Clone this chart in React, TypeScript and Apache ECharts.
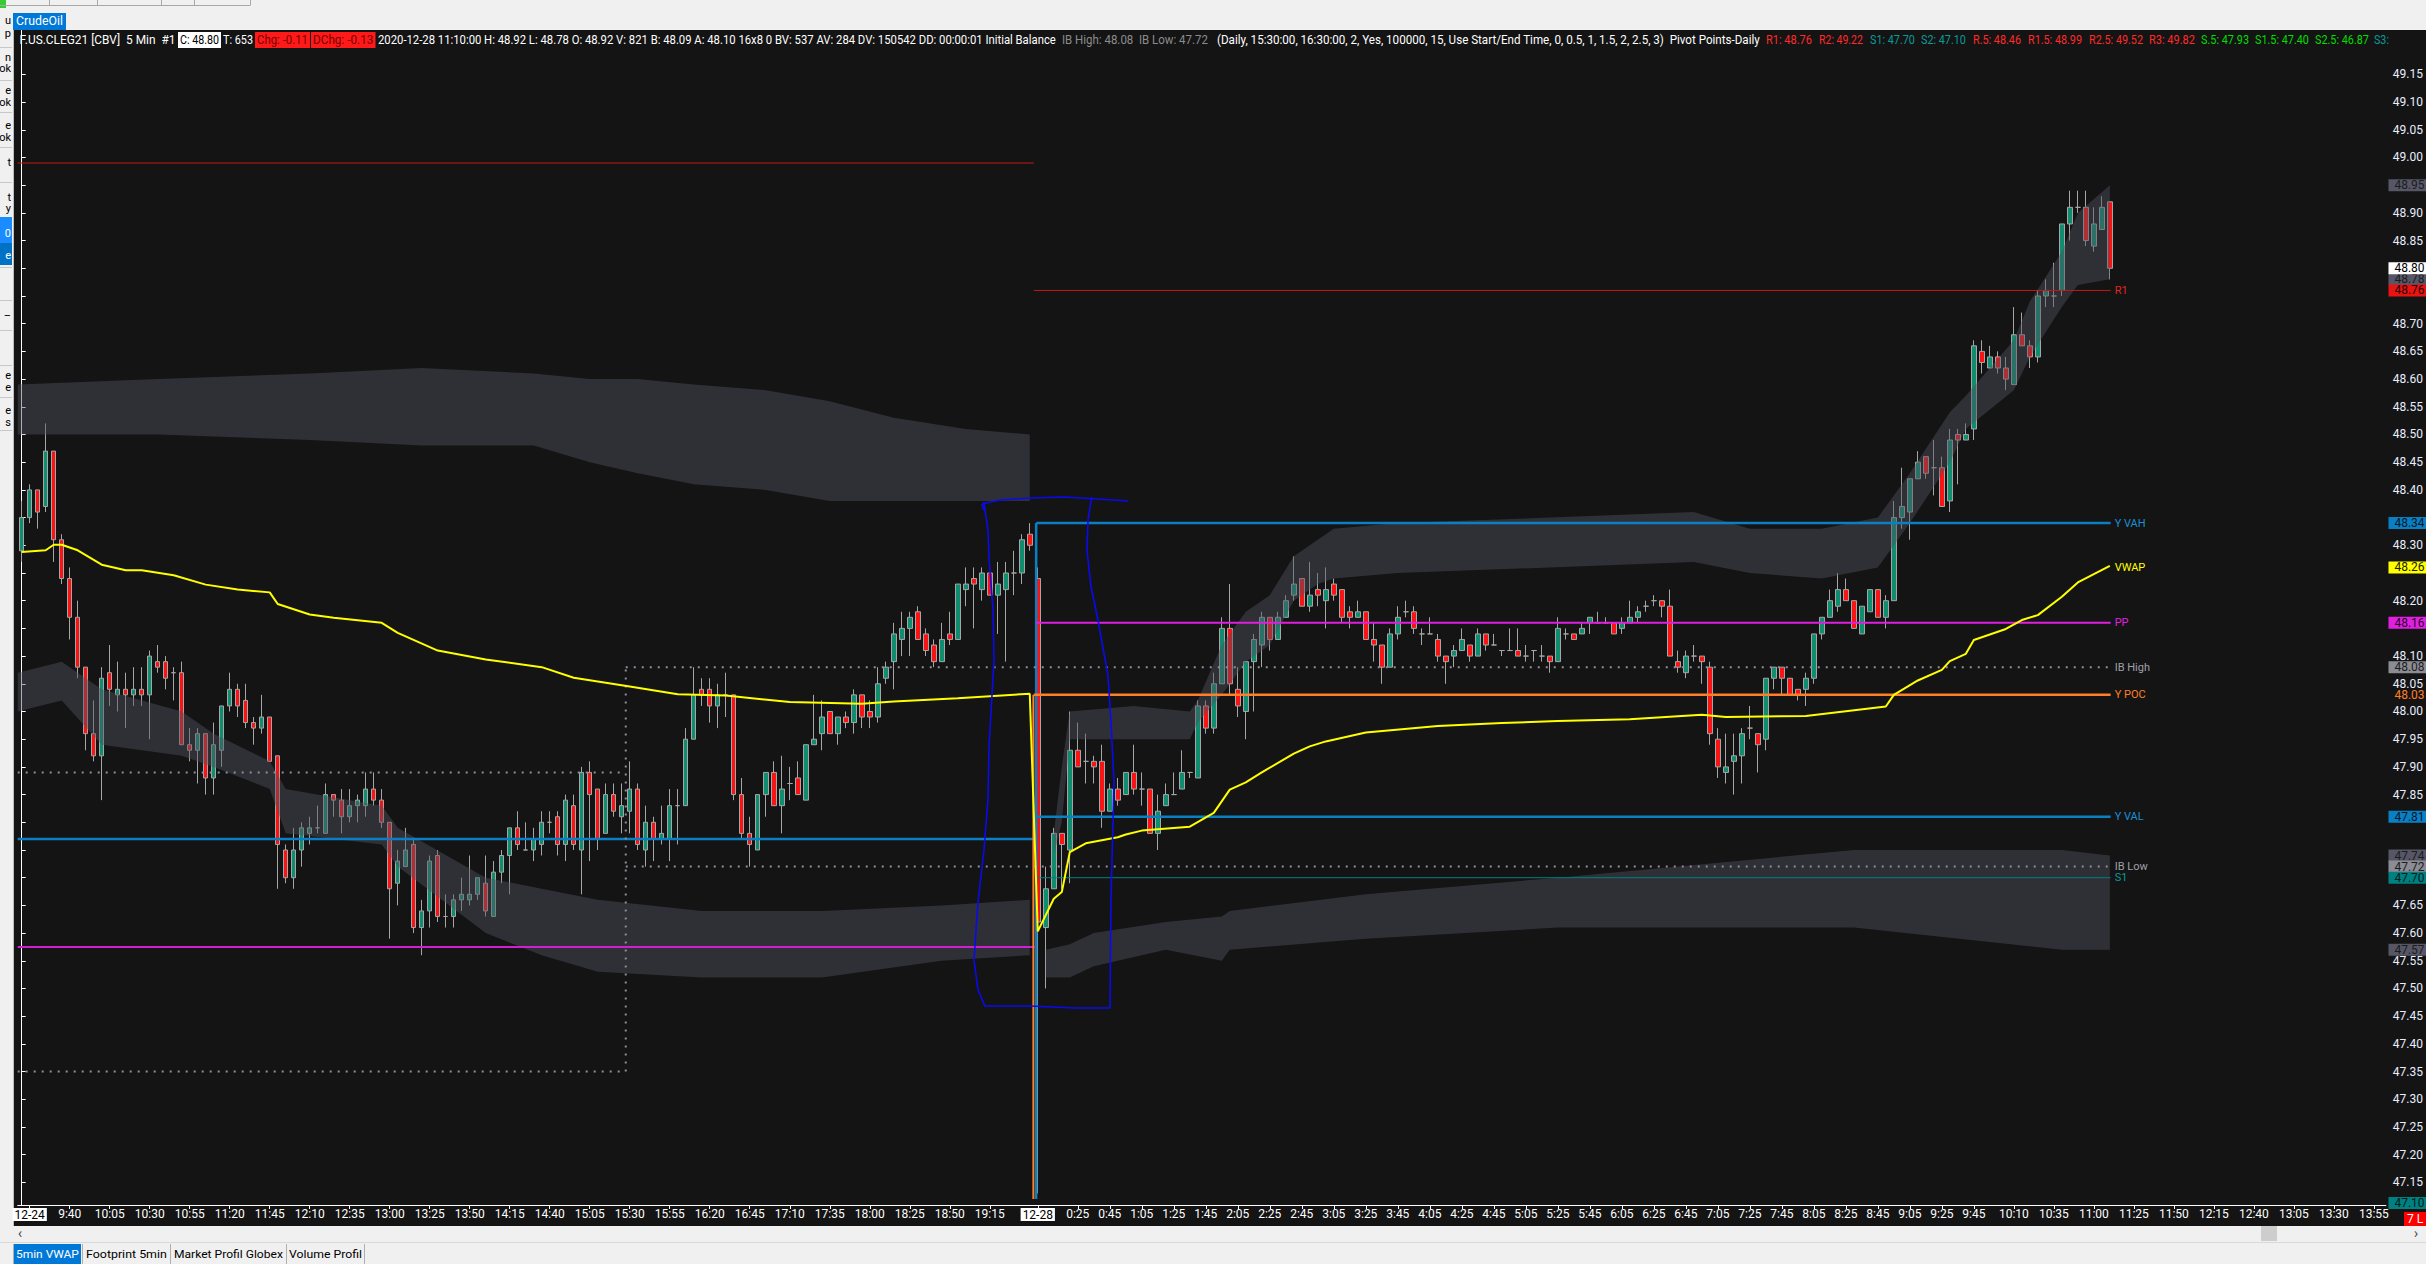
import React, { useEffect, useRef } from 'react';
import * as echarts from 'echarts';

const PAGE_W = 2426;
const PAGE_H = 1264;
const FONT = 'Roboto, "Noto Sans", "DejaVu Sans", sans-serif';

// ---------------- categories (5-minute bars) ----------------
function hm(m: number) {
  return `${Math.floor(m / 60)}:${String(m % 60).padStart(2, '0')}`;
}
const CATEGORIES: string[] = [];
for (let m = 9 * 60 + 10; m <= 19 * 60 + 40; m += 5) CATEGORIES.push(hm(m));
const SESSION2_START = CATEGORIES.length;
for (let m = 0; m <= 14 * 60; m += 5) CATEGORIES.push(hm(m));

const DAY1_TICKS = ['9:40', '10:05', '10:30', '10:55', '11:20', '11:45', '12:10', '12:35', '13:00', '13:25', '13:50', '14:15', '14:40', '15:05', '15:30', '15:55', '16:20', '16:45', '17:10', '17:35', '18:00', '18:25', '18:50', '19:15'];
const DAY2_TICKS = ['0:25', '0:45', '1:05', '1:25', '1:45', '2:05', '2:25', '2:45', '3:05', '3:25', '3:45', '4:05', '4:25', '4:45', '5:05', '5:25', '5:45', '6:05', '6:25', '6:45', '7:05', '7:25', '7:45', '8:05', '8:25', '8:45', '9:05', '9:25', '9:45', '10:10', '10:35', '11:00', '11:25', '11:50', '12:15', '12:40', '13:05', '13:30', '13:55'];
const DATE_TICK_INDEXES = [1, 127];
const DATE_TICK_TEXTS = ['12-24', '12-28'];

const Y_TICKS = [47.15, 47.2, 47.25, 47.3, 47.35, 47.4, 47.45, 47.5, 47.55, 47.6, 47.65, 47.7, 47.75, 47.8, 47.85, 47.9, 47.95, 48.0, 48.05, 48.1, 48.15, 48.2, 48.25, 48.3, 48.35, 48.4, 48.45, 48.5, 48.55, 48.6, 48.65, 48.7, 48.75, 48.8, 48.85, 48.9, 48.95, 49.0, 49.05, 49.1, 49.15];
// labels that stay visible (the others sit under the coloured price tags)
const Y_LABELS = [47.15, 47.2, 47.25, 47.3, 47.35, 47.4, 47.45, 47.5, 47.55, 47.6, 47.65, 47.85, 47.9, 47.95, 48.0, 48.05, 48.1, 48.2, 48.3, 48.4, 48.45, 48.5, 48.55, 48.6, 48.65, 48.7, 48.85, 48.9, 49.0, 49.05, 49.1, 49.15];

// ---------------- candles [open, close, low, high] ----------------
const SESSION1_CANDLES: number[][] = [
  [48.29, 48.35, 48.27, 48.38], [48.35, 48.40, 48.34, 48.41], [48.40, 48.36, 48.33, 48.40], [48.37, 48.47, 48.36, 48.52],
  [48.47, 48.31, 48.27, 48.47], [48.31, 48.24, 48.23, 48.32], [48.24, 48.17, 48.13, 48.26], [48.17, 48.08, 48.06, 48.20],
  [48.08, 47.96, 47.93, 48.08], [47.96, 47.92, 47.91, 48.02], [47.92, 48.06, 47.84, 48.08], [48.07, 48.04, 48.01, 48.12],
  [48.03, 48.04, 48.00, 48.09], [48.04, 48.03, 47.97, 48.07], [48.03, 48.04, 48.01, 48.08], [48.04, 48.03, 48.01, 48.08],
  [48.03, 48.10, 47.95, 48.11], [48.09, 48.08, 48.07, 48.12], [48.09, 48.06, 48.04, 48.10], [48.07, 48.07, 48.02, 48.08],
  [48.07, 47.94, 47.94, 48.09], [47.94, 47.93, 47.91, 47.97], [47.93, 47.96, 47.87, 47.97], [47.96, 47.88, 47.85, 47.96],
  [47.88, 47.94, 47.85, 47.98], [47.93, 48.01, 47.90, 48.01], [48.01, 48.04, 48.00, 48.07], [48.04, 48.01, 47.99, 48.05],
  [48.02, 47.98, 47.97, 48.05], [47.98, 47.97, 47.94, 47.99], [47.97, 47.99, 47.96, 48.03], [47.99, 47.91, 47.91, 47.99],
  [47.92, 47.76, 47.68, 47.92], [47.75, 47.70, 47.69, 47.76], [47.70, 47.75, 47.68, 47.79], [47.75, 47.79, 47.72, 47.80],
  [47.78, 47.79, 47.76, 47.81], [47.79, 47.79, 47.78, 47.83], [47.78, 47.85, 47.78, 47.87], [47.85, 47.84, 47.81, 47.85],
  [47.84, 47.81, 47.78, 47.86], [47.81, 47.83, 47.80, 47.86], [47.83, 47.84, 47.80, 47.85], [47.83, 47.86, 47.81, 47.89],
  [47.86, 47.84, 47.83, 47.89], [47.84, 47.80, 47.79, 47.86], [47.80, 47.68, 47.59, 47.80], [47.69, 47.73, 47.65, 47.75],
  [47.72, 47.75, 47.72, 47.79], [47.76, 47.61, 47.60, 47.77], [47.61, 47.64, 47.56, 47.66], [47.64, 47.73, 47.61, 47.74],
  [47.74, 47.63, 47.62, 47.75], [47.63, 47.63, 47.61, 47.67], [47.63, 47.66, 47.61, 47.67], [47.66, 47.67, 47.64, 47.70],
  [47.66, 47.67, 47.65, 47.74], [47.67, 47.70, 47.66, 47.70], [47.69, 47.64, 47.63, 47.74], [47.63, 47.71, 47.63, 47.73],
  [47.71, 47.74, 47.69, 47.75], [47.74, 47.79, 47.67, 47.79], [47.79, 47.76, 47.75, 47.82], [47.75, 47.75, 47.75, 47.80],
  [47.75, 47.77, 47.73, 47.79], [47.76, 47.80, 47.74, 47.82], [47.80, 47.80, 47.78, 47.82], [47.81, 47.76, 47.74, 47.82],
  [47.76, 47.84, 47.73, 47.85], [47.83, 47.76, 47.75, 47.85], [47.75, 47.89, 47.67, 47.90], [47.89, 47.85, 47.73, 47.91],
  [47.86, 47.77, 47.75, 47.86], [47.78, 47.85, 47.78, 47.87], [47.85, 47.82, 47.81, 47.87], [47.81, 47.83, 47.78, 47.87],
  [47.82, 47.86, 47.78, 47.91], [47.86, 47.76, 47.75, 47.87], [47.75, 47.80, 47.72, 47.83], [47.80, 47.77, 47.73, 47.81],
  [47.77, 47.78, 47.76, 47.83], [47.77, 47.83, 47.73, 47.86], [47.83, 47.83, 47.76, 47.86], [47.83, 47.95, 47.83, 47.97],
  [47.95, 48.03, 47.95, 48.08], [48.04, 48.03, 48.01, 48.06], [48.04, 48.01, 47.98, 48.06], [48.01, 48.03, 47.97, 48.05],
  [48.03, 48.03, 47.99, 48.07], [48.03, 47.85, 47.84, 48.03], [47.85, 47.78, 47.77, 47.88], [47.78, 47.76, 47.72, 47.81],
  [47.75, 47.85, 47.75, 47.85], [47.85, 47.89, 47.81, 47.89], [47.89, 47.83, 47.83, 47.91], [47.83, 47.86, 47.78, 47.92],
  [47.87, 47.87, 47.84, 47.90], [47.88, 47.85, 47.85, 47.91], [47.84, 47.94, 47.84, 47.94], [47.94, 47.95, 47.94, 48.03],
  [47.96, 47.99, 47.93, 48.02], [48.00, 47.96, 47.96, 48.00], [47.96, 47.99, 47.94, 47.99], [47.99, 47.98, 47.97, 48.00],
  [47.98, 48.03, 47.96, 48.04], [48.03, 47.99, 47.97, 48.03], [48.00, 47.99, 47.97, 48.02], [47.99, 48.05, 47.98, 48.08],
  [48.06, 48.08, 48.05, 48.09], [48.09, 48.14, 48.04, 48.16], [48.13, 48.15, 48.10, 48.18], [48.15, 48.17, 48.10, 48.18],
  [48.18, 48.13, 48.13, 48.19], [48.14, 48.11, 48.10, 48.15], [48.12, 48.09, 48.08, 48.13], [48.09, 48.13, 48.09, 48.16],
  [48.14, 48.13, 48.12, 48.18], [48.13, 48.23, 48.13, 48.23], [48.22, 48.23, 48.19, 48.26], [48.24, 48.23, 48.15, 48.26],
  [48.22, 48.25, 48.20, 48.26], [48.25, 48.21, 48.21, 48.25], [48.21, 48.23, 48.14, 48.27], [48.22, 48.25, 48.09, 48.27],
  [48.25, 48.25, 48.21, 48.29], [48.25, 48.31, 48.23, 48.32], [48.32, 48.30, 48.29, 48.34],
];

const SESSION2_CANDLES: number[][] = [
  [48.24, 47.62, 47.13, 48.26],
  [47.61, 47.68, 47.50, 47.72], [47.68, 47.78, 47.68, 47.79], [47.78, 47.76, 47.68, 47.78], [47.75, 47.93, 47.69, 48.00],
  [47.93, 47.90, 47.90, 47.98], [47.91, 47.91, 47.87, 47.96], [47.91, 47.90, 47.87, 47.92], [47.91, 47.82, 47.79, 47.94],
  [47.82, 47.86, 47.82, 47.87], [47.86, 47.84, 47.83, 47.88], [47.85, 47.89, 47.85, 47.89], [47.89, 47.86, 47.85, 47.94],
  [47.86, 47.86, 47.83, 47.89], [47.86, 47.78, 47.78, 47.86], [47.78, 47.82, 47.75, 47.85], [47.83, 47.85, 47.83, 47.87],
  [47.85, 47.85, 47.85, 47.89], [47.86, 47.89, 47.86, 47.93], [47.89, 47.89, 47.88, 47.89], [47.88, 48.01, 47.88, 48.02],
  [48.01, 47.97, 47.96, 48.02], [47.97, 48.05, 47.96, 48.07], [48.05, 48.15, 48.05, 48.17], [48.15, 48.05, 48.03, 48.23],
  [48.04, 48.01, 47.99, 48.08], [48.00, 48.09, 47.95, 48.09], [48.09, 48.13, 48.00, 48.14], [48.12, 48.17, 48.08, 48.18],
  [48.17, 48.13, 48.11, 48.17], [48.13, 48.17, 48.13, 48.18], [48.17, 48.20, 48.17, 48.21], [48.21, 48.23, 48.20, 48.28],
  [48.24, 48.19, 48.19, 48.24], [48.19, 48.21, 48.18, 48.27], [48.22, 48.21, 48.19, 48.25], [48.20, 48.22, 48.15, 48.26],
  [48.23, 48.21, 48.20, 48.24], [48.22, 48.17, 48.16, 48.22], [48.18, 48.17, 48.15, 48.19], [48.17, 48.18, 48.17, 48.20],
  [48.18, 48.13, 48.13, 48.18], [48.13, 48.12, 48.09, 48.16], [48.12, 48.08, 48.05, 48.12], [48.08, 48.14, 48.08, 48.15],
  [48.14, 48.17, 48.13, 48.19], [48.18, 48.18, 48.17, 48.20], [48.18, 48.15, 48.14, 48.19], [48.14, 48.14, 48.12, 48.15],
  [48.14, 48.14, 48.14, 48.17], [48.13, 48.10, 48.09, 48.14], [48.10, 48.09, 48.05, 48.10], [48.10, 48.11, 48.08, 48.12],
  [48.11, 48.13, 48.11, 48.15], [48.12, 48.10, 48.09, 48.12], [48.10, 48.14, 48.10, 48.15], [48.14, 48.12, 48.11, 48.14],
  [48.12, 48.12, 48.12, 48.14], [48.11, 48.11, 48.10, 48.11], [48.11, 48.11, 48.11, 48.15], [48.11, 48.10, 48.10, 48.15],
  [48.10, 48.10, 48.09, 48.12], [48.11, 48.11, 48.09, 48.11], [48.10, 48.10, 48.09, 48.12], [48.10, 48.09, 48.07, 48.10],
  [48.09, 48.15, 48.09, 48.17],
  [48.14, 48.14, 48.13, 48.15], [48.14, 48.13, 48.13, 48.14], [48.14, 48.15, 48.14, 48.16], [48.16, 48.17, 48.14, 48.17],
  [48.16, 48.16, 48.16, 48.18], [48.16, 48.16, 48.16, 48.17], [48.16, 48.14, 48.14, 48.16], [48.15, 48.16, 48.14, 48.17],
  [48.16, 48.17, 48.16, 48.20], [48.17, 48.18, 48.16, 48.19], [48.19, 48.19, 48.18, 48.20], [48.20, 48.20, 48.19, 48.21],
  [48.20, 48.19, 48.17, 48.20], [48.19, 48.10, 48.10, 48.22], [48.09, 48.08, 48.07, 48.11], [48.07, 48.10, 48.06, 48.11],
  [48.10, 48.10, 48.09, 48.12], [48.10, 48.09, 48.05, 48.10], [48.08, 47.96, 47.94, 48.09], [47.95, 47.90, 47.88, 47.97],
  [47.89, 47.90, 47.87, 47.96], [47.91, 47.92, 47.85, 47.96], [47.92, 47.96, 47.87, 47.97], [47.97, 47.97, 47.95, 48.01],
  [47.96, 47.94, 47.89, 47.96], [47.95, 48.06, 47.93, 48.06], [48.06, 48.08, 48.04, 48.08], [48.08, 48.06, 48.03, 48.08],
  [48.06, 48.03, 48.03, 48.06], [48.04, 48.03, 48.02, 48.04], [48.04, 48.06, 48.01, 48.07], [48.06, 48.14, 48.05, 48.14],
  [48.14, 48.17, 48.13, 48.17], [48.17, 48.20, 48.17, 48.22], [48.19, 48.22, 48.18, 48.25], [48.22, 48.20, 48.20, 48.24],
  [48.20, 48.15, 48.15, 48.20], [48.14, 48.19, 48.14, 48.19], [48.18, 48.22, 48.18, 48.22], [48.22, 48.17, 48.17, 48.22],
  [48.17, 48.20, 48.15, 48.21], [48.20, 48.35, 48.20, 48.38], [48.35, 48.37, 48.33, 48.44], [48.36, 48.42, 48.31, 48.42],
  [48.42, 48.45, 48.42, 48.47], [48.46, 48.43, 48.42, 48.46], [48.44, 48.44, 48.39, 48.49], [48.44, 48.37, 48.37, 48.46],
  [48.38, 48.49, 48.36, 48.51], [48.50, 48.49, 48.41, 48.51], [48.49, 48.50, 48.49, 48.52], [48.51, 48.66, 48.49, 48.67],
  [48.65, 48.63, 48.61, 48.67], [48.62, 48.64, 48.62, 48.66], [48.64, 48.62, 48.61, 48.65], [48.62, 48.60, 48.58, 48.64],
  [48.59, 48.68, 48.59, 48.73], [48.68, 48.66, 48.66, 48.72], [48.66, 48.64, 48.62, 48.67], [48.64, 48.75, 48.63, 48.76],
  [48.75, 48.76, 48.73, 48.78], [48.75, 48.75, 48.73, 48.81], [48.76, 48.88, 48.75, 48.88], [48.88, 48.91, 48.85, 48.94],
  [48.91, 48.91, 48.90, 48.94], [48.91, 48.85, 48.84, 48.94], [48.84, 48.88, 48.83, 48.91], [48.87, 48.91, 48.87, 48.93],
  [48.92, 48.80, 48.78, 48.92],
];

// ---------------- VWAP (bar index, value) ----------------
const VWAP_BARS = [0, 3, 4, 5, 7, 10, 13, 15, 19, 23, 27, 31, 32, 36, 39, 45, 47, 52, 58, 65, 69, 76, 82, 88, 96, 105, 109, 117, 126,
  127, 129, 130, 131, 133, 137, 138, 140, 146, 149, 151, 153, 155, 159, 161, 163, 168, 177, 185, 192, 201, 210, 213, 223, 233, 234, 237, 240, 241, 243, 244, 248, 250, 252, 255, 257, 261];
const VWAP_VALUES = [48.288, 48.291, 48.301, 48.301, 48.291, 48.265, 48.255, 48.255, 48.246, 48.229, 48.22, 48.215, 48.194, 48.175, 48.169, 48.16, 48.142, 48.11, 48.094, 48.08, 48.061, 48.045, 48.031, 48.029, 48.017, 48.014, 48.018, 48.024, 48.032,
  47.603, 47.662, 47.674, 47.746, 47.762, 47.773, 47.778, 47.785, 47.792, 47.817, 47.859, 47.872, 47.89, 47.924, 47.937, 47.946, 47.962, 47.974, 47.979, 47.983, 47.986, 47.994, 47.99, 47.992, 48.009, 48.03, 48.056, 48.075, 48.091, 48.104, 48.129, 48.149, 48.165, 48.174, 48.207, 48.233, 48.263];

// ---------------- VWAP deviation bands ----------------
const S1_UPPER_BARS = [-0.5, 17, 36, 50, 64, 71, 77, 84, 93, 101, 109, 118, 126];
const S1_UPPER_LOW = [48.50, 48.50, 48.49, 48.48, 48.48, 48.45, 48.43, 48.41, 48.40, 48.38, 48.38, 48.38, 48.38];
const S1_UPPER_HIGH = [48.59, 48.60, 48.61, 48.62, 48.61, 48.60, 48.60, 48.59, 48.58, 48.56, 48.53, 48.51, 48.50];
const S1_LOWER_BARS = [-0.5, 5, 10, 20, 24, 31, 33, 45, 47, 58, 65, 72, 85, 100, 115, 126];
const S1_LOWER_LOW = [48.00, 48.02, 47.94, 47.92, 47.90, 47.86, 47.78, 47.76, 47.72, 47.60, 47.56, 47.53, 47.52, 47.52, 47.55, 47.56];
const S1_LOWER_HIGH = [48.07, 48.09, 48.04, 48.00, 47.96, 47.91, 47.86, 47.83, 47.79, 47.70, 47.68, 47.66, 47.64, 47.64, 47.65, 47.66];
const S2_UPPER_BARS = [129, 130, 131, 139, 146, 147, 150, 153, 156, 159, 162, 164, 172, 191, 209, 216, 225, 232, 234, 236, 241, 243, 249, 251, 255, 257, 261];
const S2_UPPER_LOW = [47.74, 47.80, 47.95, 47.95, 47.95, 47.98, 48.03, 48.09, 48.12, 48.20, 48.23, 48.24, 48.25, 48.26, 48.27, 48.25, 48.24, 48.26, 48.30, 48.34, 48.45, 48.51, 48.58, 48.64, 48.73, 48.77, 48.78];
const S2_UPPER_HIGH = [47.78, 47.90, 48.00, 48.01, 48.00, 48.02, 48.12, 48.18, 48.21, 48.28, 48.31, 48.33, 48.34, 48.35, 48.36, 48.33, 48.33, 48.35, 48.39, 48.43, 48.54, 48.57, 48.67, 48.74, 48.83, 48.90, 48.95];
const S2_LOWER_BARS = [128, 131, 134, 143, 150, 151, 168, 192, 229, 255, 261];
const S2_LOWER_LOW = [47.52, 47.52, 47.54, 47.57, 47.55, 47.57, 47.59, 47.61, 47.61, 47.57, 47.57];
const S2_LOWER_HIGH = [47.57, 47.58, 47.60, 47.62, 47.63, 47.64, 47.67, 47.70, 47.75, 47.75, 47.74];

// ---------------- horizontal levels ----------------
const LEVEL_NAMES = ['R1', 'Y VAH', 'PP', 'IB High', 'Y POC', 'Y VAL', 'IB Low', 'S1'];
const LEVEL_VALUES = [48.76, 48.34, 48.16, 48.08, 48.03, 47.81, 47.72, 47.70];
const LEVEL_START_BARS = [126.5, 126.8, 126.8, 75.5, 126.5, 126.8, 75.5, 126.8];
const LEVEL_END_BAR = 261.1;
const PREV_LEVEL_NAMES = ['R1 (12-24)', 'VA (12-24)', 'PP (12-24)', 'IB High (12-24)', 'IB Low (12-24)'];
const PREV_LEVEL_VALUES = [48.99, 47.77, 47.575, 47.89, 47.35];
const PREV_LEVEL_END_BARS = [126.5, 126.8, 126.6, 75.5, 75.5];
const CONNECTOR_NAMES = ['IB step', 'VA step', 'POC step'];
const CONNECTOR_BARS = [75.5, 126.8, 126.45];
const CONNECTOR_FROM = [47.35, 48.34, 48.03];
const CONNECTOR_TO = [48.08, 47.12, 47.12];

const LINE_LABEL_TEXTS = ['R1', 'Y VAH', 'VWAP', 'PP', 'IB High', 'Y POC', 'Y VAL', 'IB Low', 'S1'];
const LINE_LABEL_VALUES = [48.76, 48.34, 48.26, 48.16, 48.08, 48.03, 47.81, 47.72, 47.70];

const TAG_VALUES = [48.95, 48.78, 48.80, 48.76, 48.34, 48.26, 48.16, 48.08, 48.03, 47.81, 47.74, 47.72, 47.70, 47.57, 47.10];

// ---------------- styles / layout ----------------
const BAR_W = 8.006;
const GRID_LEFT = 17.7;
const GRID_W = CATEGORIES.length * BAR_W;
const GRID_RIGHT = GRID_LEFT + GRID_W;
const GRID_TOP = 30;
const GRID_H = 1175;
const Y_MIN = 47.1092;
const Y_MAX = 49.2301;

const BLUE = '#0a7fc4';
const LEVEL_STYLE: Record<string, { color: string; width: number; dash?: any }> = {
  'R1': { color: '#c41818', width: 1 },
  'Y VAH': { color: BLUE, width: 2.5 },
  'PP': { color: '#e01ee0', width: 2 },
  'IB High': { color: '#8e8e9c', width: 2, dash: [2, 6] },
  'Y POC': { color: '#ff7f27', width: 2.5 },
  'Y VAL': { color: BLUE, width: 2.5 },
  'IB Low': { color: '#8e8e9c', width: 2, dash: [2, 6] },
  'S1': { color: '#008080', width: 1 },
};
const PREV_LEVEL_STYLE = [
  { color: '#c41818', width: 1 },
  { color: BLUE, width: 2.5 },
  { color: '#d21ed2', width: 2 },
  { color: '#8e8e9c', width: 2, dash: [2, 6] },
  { color: '#8e8e9c', width: 2, dash: [2, 6] },
];
const CONNECTOR_STYLE = [
  { color: '#8e8e9c', width: 2, dash: [2, 6] },
  { color: BLUE, width: 2.5 },
  { color: '#ff7f27', width: 2 },
];
const LINE_LABEL_COLORS = ['#e02424', '#1a90d4', '#ffff00', '#e020e0', '#a0a0aa', '#ff7f27', '#1a90d4', '#a0a0aa', '#0a9a9a'];
const TAG_STYLES: [string | null, string][] = [
  ['#565666', '#1c1c1c'], ['#565666', '#1c1c1c'], ['#ffffff', '#000000'], ['#e81414', '#2a0000'],
  [BLUE, '#06192a'], ['#ffff00', '#202000'], ['#e020e0', '#2a002a'], ['#8c8c94', '#1c1c1c'],
  [null, '#ff7f27'], [BLUE, '#06192a'], ['#565666', '#1c1c1c'], ['#8c8c94', '#1c1c1c'],
  ['#008080', '#001c1c'], ['#565666', '#1c1c1c'], ['#008080', '#001c1c'],
];
const BAND_FILL = 'rgba(79,79,96,0.45)';

const HEADER_SEGMENTS: [string, number, number, string, string | null][] = [
  ['F.US.CLEG21 [CBV]  5 Min  #1', 19.6, 175.6, '#ffffff', null],
  ['C: 48.80', 180, 219, '#000000', '#ffffff'],
  ['T: 653', 223, 253, '#ffffff', null],
  ['Chg: -0.11', 257, 308, '#7a0000', '#ff1a1a'],
  ['DChg: -0.13', 313, 373.5, '#7a0000', '#ff1a1a'],
  ['2020-12-28 11:10:00 H: 48.92 L: 48.78 O: 48.92 V: 821 B: 48.09 A: 48.10 16x8 0 BV: 537 AV: 284 DV: 150542 DD: 00:00:01 Initial Balance', 378, 1057, '#ffffff', null],
  ['IB High: 48.08  IB Low: 47.72', 1062, 1208, '#8c8c8c', null],
  ['(Daily, 15:30:00, 16:30:00, 2, Yes, 100000, 15, Use Start/End Time, 0, 0.5, 1, 1.5, 2, 2.5, 3)  Pivot Points-Daily', 1217, 1761, '#ffffff', null],
  ['R1: 48.76', 1766, 1812, '#ff2a2a', null],
  ['R2: 49.22', 1819, 1863, '#ff2a2a', null],
  ['S1: 47.70', 1870, 1915, '#0a9a9a', null],
  ['S2: 47.10', 1921, 1966, '#0a9a9a', null],
  ['R.5: 48.46', 1973, 2021, '#ff2a2a', null],
  ['R1.5: 48.99', 2028, 2082, '#ff2a2a', null],
  ['R2.5: 49.52', 2089, 2143, '#ff2a2a', null],
  ['R3: 49.82', 2149, 2195, '#ff2a2a', null],
  ['S.5: 47.93', 2201, 2249, '#00dd00', null],
  ['S1.5: 47.40', 2255, 2309, '#00dd00', null],
  ['S2.5: 46.87', 2315, 2369, '#00dd00', null],
  ['S3:', 2374, 2389, '#0a9a9a', null],
];

const BOTTOM_TABS: [string, number, number][] = [
  ['5min VWAP', 16, 79],
  ['Footprint 5min', 86, 167],
  ['Market Profil Globex', 174, 283],
  ['Volume Profil', 289, 362],
];

const SIDEBAR_LETTERS: [string, number, string][] = [
  ['u', 20, '#000'], ['p', 33, '#000'], ['n', 57, '#000'], ['ok', 68, '#000'], ['e', 90, '#000'], ['ok', 102, '#000'],
  ['e', 125, '#000'], ['ok', 137, '#000'], ['t', 162, '#000'], ['t', 197, '#000'], ['y', 208, '#000'],
  ['0', 233, '#fff'], ['e', 255, '#fff'], ['–', 315, '#000'], ['e', 375, '#000'], ['e', 387, '#000'], ['e', 410, '#000'], ['s', 422, '#000'],
];
const SIDEBAR_SEPARATORS = [47, 80, 112, 147, 182, 217, 267, 300, 330, 365, 397, 430];

// hand-drawn annotation (pixels)
const SKETCH_TOP = [[982, 504], [1000, 500], [1030, 498], [1064, 497], [1098, 499], [1128, 501]];
const SKETCH_LOOP = [[984, 510], [982, 505], [984, 503], [988, 530], [989, 558], [993, 609], [994, 661], [989, 747], [988, 799], [984, 850], [978, 902], [974, 960], [978, 990], [985, 1006],
  [1030, 1006], [1075, 1008], [1110, 1008], [1111, 899], [1114, 783], [1111, 722], [1108, 676], [1098, 620], [1091, 587], [1087, 550], [1088, 520], [1091, 501], [1092, 497]];

// ---------------- helpers ----------------
let measureCtx: CanvasRenderingContext2D | null = null;
function measure(text: string, font: string) {
  if (!measureCtx) measureCtx = document.createElement('canvas').getContext('2d');
  if (!measureCtx) return text.length * 6;
  measureCtx.font = font;
  return measureCtx.measureText(text).width;
}
function txtStyle(text: string, fill: string, size: number, align = 'left') {
  return {
    text, fill, font: `${size}px ${FONT}`,
    textAlign: align, textVerticalAlign: 'middle', align, verticalAlign: 'middle',
  };
}
function fitText(text: string, x0: number, x1: number, y: number, size: number, color: string, z = 20) {
  const w = measure(text, `${size}px ${FONT}`);
  const s = w > 0 ? (x1 - x0) / w : 1;
  return { type: 'text', x: x0, y, scaleX: s, z, silent: true, style: txtStyle(text, color, size) };
}
function rect(x: number, y: number, w: number, h: number, fill: string, z = 10) {
  return { type: 'rect', silent: true, z, shape: { x, y, width: w, height: h }, style: { fill } };
}
function hline(x1: number, y1: number, x2: number, y2: number, stroke: string, lw = 1, z = 10) {
  return { type: 'line', silent: true, z, shape: { x1, y1, x2, y2 }, style: { stroke, lineWidth: lw } };
}

function lineSeries(name: string, data: number[][], st: { color: string; width: number; dash?: any }, z = 4) {
  return {
    type: 'line', name, xAxisIndex: 1, yAxisIndex: 0, data, symbol: 'none', showSymbol: false,
    silent: true, z, animation: false,
    lineStyle: { color: st.color, width: st.width, type: st.dash ?? 'solid', cap: 'butt' },
    emphasis: { disabled: true },
  };
}

function buildOption() {
  const candleData = [...SESSION1_CANDLES, ...SESSION2_CANDLES];

  const bands = [
    { bars: S1_UPPER_BARS, low: S1_UPPER_LOW, high: S1_UPPER_HIGH },
    { bars: S1_LOWER_BARS, low: S1_LOWER_LOW, high: S1_LOWER_HIGH },
    { bars: S2_UPPER_BARS, low: S2_UPPER_LOW, high: S2_UPPER_HIGH },
    { bars: S2_LOWER_BARS, low: S2_LOWER_LOW, high: S2_LOWER_HIGH },
  ];

  const series: any[] = [];
  series.push({
    type: 'candlestick', name: 'F.US.CLEG21 5 Min', xAxisIndex: 0, yAxisIndex: 0, data: candleData,
    barWidth: 5, z: 2, silent: true,
    itemStyle: { color: '#108c6e', color0: '#f81414', borderColor: '#a6a6a6', borderColor0: '#a6a6a6', borderWidth: 1 },
  });
  series.push({
    type: 'custom', name: 'VWAP bands', xAxisIndex: 1, yAxisIndex: 0, z: 3, silent: true, clip: false,
    data: bands.map((_, i) => [i, 48]),
    renderItem: (params: any, api: any) => {
      const b = bands[params.dataIndex];
      const top = b.bars.map((x, k) => api.coord([x, b.high[k]]));
      const bot = b.bars.map((x, k) => api.coord([x, b.low[k]])).reverse();
      return { type: 'polygon', shape: { points: top.concat(bot) }, style: { fill: BAND_FILL } };
    },
  });
  PREV_LEVEL_NAMES.forEach((name, i) => {
    series.push(lineSeries(name, [[-0.5, PREV_LEVEL_VALUES[i]], [PREV_LEVEL_END_BARS[i], PREV_LEVEL_VALUES[i]]], PREV_LEVEL_STYLE[i]));
  });
  CONNECTOR_NAMES.forEach((name, i) => {
    series.push(lineSeries(name, [[CONNECTOR_BARS[i], CONNECTOR_FROM[i]], [CONNECTOR_BARS[i], CONNECTOR_TO[i]]], CONNECTOR_STYLE[i]));
  });
  LEVEL_NAMES.forEach((name, i) => {
    series.push(lineSeries(name, [[LEVEL_START_BARS[i], LEVEL_VALUES[i]], [LEVEL_END_BAR, LEVEL_VALUES[i]]], LEVEL_STYLE[name]));
  });
  series.push(lineSeries('VWAP', VWAP_BARS.map((b, i) => [b, VWAP_VALUES[i]]), { color: '#ffff00', width: 2 }, 6));
  series.push({
    type: 'custom', name: 'level labels', xAxisIndex: 1, yAxisIndex: 0, z: 7, silent: true, clip: false,
    data: LINE_LABEL_VALUES.map((v) => [LEVEL_END_BAR, v]),
    renderItem: (params: any, api: any) => {
      const i = params.dataIndex;
      const pt = api.coord([LEVEL_END_BAR + 0.5, LINE_LABEL_VALUES[i]]);
      return { type: 'text', style: { ...txtStyle(LINE_LABEL_TEXTS[i], LINE_LABEL_COLORS[i], 11), x: pt[0], y: pt[1] } };
    },
  });
  series.push({
    type: 'custom', name: 'price tags', xAxisIndex: 1, yAxisIndex: 0, z: 12, silent: true, clip: false,
    data: TAG_VALUES.map((v) => [0, v]),
    renderItem: (params: any, api: any) => {
      const i = params.dataIndex;
      const p = TAG_VALUES[i];
      const y = Math.min(api.coord([0, p])[1], 1203);
      const x = GRID_RIGHT + 1;
      const [bg, fg] = TAG_STYLES[i];
      const children: any[] = [];
      if (bg) children.push({ type: 'rect', shape: { x, y: y - 6, width: PAGE_W - x, height: 12 }, style: { fill: bg } });
      children.push({ type: 'text', style: { ...txtStyle(p.toFixed(2), fg, 12), x: x + 6, y } });
      return { type: 'group', children };
    },
  });

  // ---------- chrome graphics ----------
  const g: any[] = [];
  g.push(rect(13, 30, PAGE_W - 13, 1196, '#141414', -100));
  g.push(hline(13.5, 30, 13.5, 1226, '#bdbdbd', 1, -99));
  // top strip
  g.push(rect(0, 0, 6, 8, '#33cc33', 10));
  g.push(hline(0, 5.5, 250, 5.5, '#a8a8a8'));
  [49, 97, 161, 194, 250].forEach((x) => g.push(hline(x + 0.5, 0, x + 0.5, 5.5, '#a8a8a8')));
  g.push(rect(13, 13, 53, 17, '#0078d7', 10));
  g.push(fitText('CrudeOil', 16, 63, 21.5, 12, '#ffffff', 11));
  // header
  HEADER_SEGMENTS.forEach(([text, x0, x1, color, bg]) => {
    if (bg) g.push(rect(x0 - 2, 32, x1 - x0 + 4, 16, bg, 19));
    g.push(fitText(text, x0, x1, 40, 12, color, 20));
  });
  // left sidebar
  SIDEBAR_SEPARATORS.forEach((y) => g.push(hline(0, y + 0.5, 12, y + 0.5, '#c8c8c8')));
  g.push(rect(0, 217, 12, 26, '#1a8cff', 10));
  g.push(rect(0, 243, 12, 22, '#0072c6', 10));
  SIDEBAR_LETTERS.forEach(([t, y, c]) => g.push({ type: 'text', x: 11, y, z: 11, silent: true, style: txtStyle(t, c, 11, 'right') }));
  // bottom scroll bar
  g.push({ type: 'text', x: 20, y: 1233, z: 11, silent: true, style: txtStyle('‹', '#505050', 15, 'center') });
  g.push({ type: 'text', x: 2416, y: 1233, z: 11, silent: true, style: txtStyle('›', '#505050', 15, 'center') });
  g.push(rect(2261, 1226, 16, 15, '#cdcdcd', 10));
  g.push(hline(0, 1242.5, PAGE_W, 1242.5, '#d8d8d8', 1));
  // bottom tabs
  g.push(rect(14, 1244, 67, 20, '#0078d7', 10));
  [13, 82, 170, 286, 364].forEach((x) => g.push(hline(x + 0.5, 1244, x + 0.5, 1264, '#b0b0b0')));
  BOTTOM_TABS.forEach(([t, x0, x1], i) => g.push(fitText(t, x0, x1, 1254, 11, i === 0 ? '#ffffff' : '#000000', 11)));
  // "7 L"
  g.push(rect(2404, 1212, PAGE_W - 2404, 14, '#ff0000', 30));
  g.push({ type: 'text', x: 2415, y: 1219, z: 31, silent: true, style: txtStyle('7 L', '#ffffff', 12, 'center') });
  // sketch annotation
  g.push({ type: 'polyline', z: 40, silent: true, shape: { points: SKETCH_TOP }, style: { stroke: '#0a0aee', lineWidth: 1.6, fill: null } });
  g.push({ type: 'polyline', z: 40, silent: true, shape: { points: SKETCH_LOOP }, style: { stroke: '#0a0aee', lineWidth: 1.6, fill: null } });

  const showTick = (index: number, value: string) =>
    DATE_TICK_INDEXES.includes(index) || (index < SESSION2_START ? DAY1_TICKS : DAY2_TICKS).includes(value);

  return {
    animation: false,
    backgroundColor: '#f0f0f0',
    textStyle: { fontFamily: FONT },
    grid: { left: GRID_LEFT, top: GRID_TOP, width: GRID_W, height: GRID_H, show: false, containLabel: false },
    xAxis: [
      {
        type: 'category', data: CATEGORIES, boundaryGap: true,
        axisLine: { show: true, lineStyle: { color: '#ffffff', width: 1 } },
        axisTick: { show: true, interval: showTick, alignWithLabel: true, length: 4, lineStyle: { color: '#ffffff' } },
        axisLabel: {
          interval: showTick, color: '#ffffff', fontSize: 12, margin: 3, fontFamily: FONT,
          formatter: (v: string, i: number) => {
            const k = DATE_TICK_INDEXES.indexOf(i);
            return k >= 0 ? `{d|${DATE_TICK_TEXTS[k]}}` : v;
          },
          rich: { d: { backgroundColor: '#ffffff', color: '#000000', fontSize: 12, padding: [1, 2, 0, 2], fontFamily: FONT } },
        },
        splitLine: { show: false },
      },
      { type: 'value', min: -0.5, max: CATEGORIES.length - 0.5, show: false },
    ],
    yAxis: [
      {
        type: 'value', position: 'right', min: Y_MIN, max: Y_MAX,
        axisLine: { show: true, lineStyle: { color: '#ffffff', width: 1 } },
        axisTick: { show: true, length: 4, customValues: Y_TICKS, lineStyle: { color: '#ffffff' } },
        axisLabel: {
          customValues: Y_LABELS, color: '#e8eeff', fontSize: 12, margin: 7, fontFamily: FONT,
          formatter: (v: number) => v.toFixed(2),
        },
        splitLine: { show: false },
      },
    ],
    series,
    graphic: { elements: g },
  };
}

export default function App() {
  const ref = useRef<HTMLDivElement>(null);
  useEffect(() => {
    if (!ref.current) return;
    const chart = echarts.init(ref.current, null, { renderer: 'svg', width: PAGE_W, height: PAGE_H });
    chart.setOption(buildOption() as any);
    return () => chart.dispose();
  }, []);
  return <div ref={ref} style={{ position: 'fixed', left: 0, top: 0, width: PAGE_W, height: PAGE_H }} />;
}
